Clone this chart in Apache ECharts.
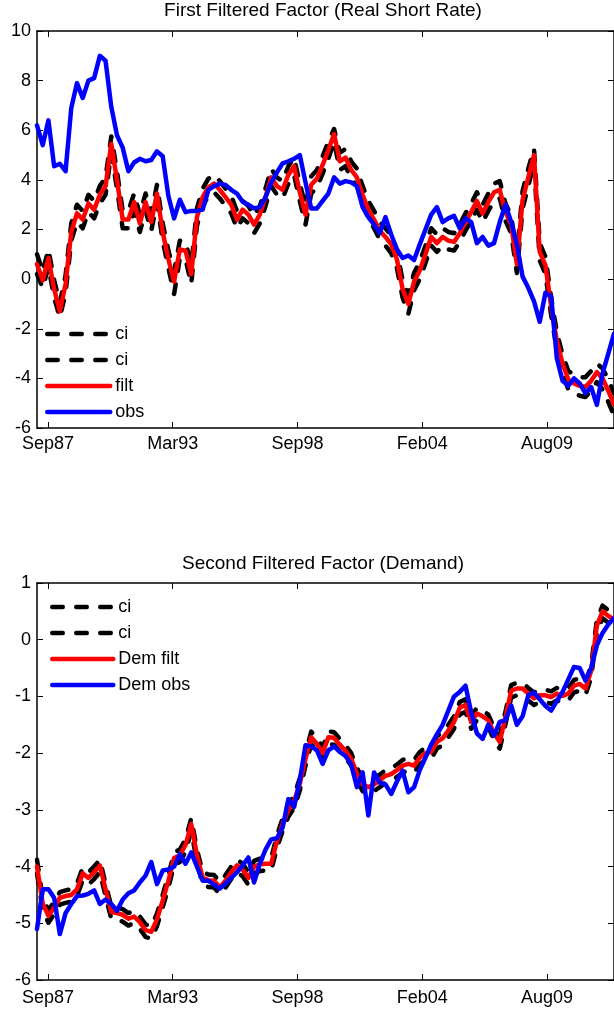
<!DOCTYPE html>
<html><head><meta charset="utf-8">
<script src="https://cdn.jsdelivr.net/npm/echarts@6/dist/echarts.min.js"></script>
<style>html,body{margin:0;padding:0;background:#fff}#c{width:614px;height:1014px}</style>
</head><body><div id="c"></div>
<script>
// ---- data (quarterly, first quarter 1987Q2) ----
const startYear = 1987.25;
const quarterStep = 0.25;
const tickPos = [1987.73, 1993.19, 1998.65, 2004.11, 2009.57];
const tickLabels = ['Sep87', 'Mar93', 'Sep98', 'Feb04', 'Aug09'];
const title1 = 'First Filtered Factor (Real Short Rate)';
const title2 = 'Second Filtered Factor (Demand)';

// Panel 1: First filtered factor (real short rate)
const ciUpper1 = [1.0,0.3,1.2,-0.05,-0.95,0.15,2.25,3.0,2.75,3.4,3.15,3.75,4.1,5.75,4.35,2.75,2.75,3.45,2.6,3.45,2.65,3.8,2.25,1.15,0.3,1.55,1.5,0.55,2.85,3.65,4.05,4.2,3.95,3.65,3.35,2.75,3.15,2.95,2.55,2.95,3.65,4.45,4.1,3.95,4.55,4.9,3.85,2.95,4.15,4.4,4.95,5.55,6.05,5.1,5.25,4.75,4.45,3.75,3.15,2.75,2.3,2.05,1.75,1.15,-0.05,-0.65,0.25,0.7,1.35,2.05,1.8,2.05,1.9,1.85,2.2,2.65,3.05,3.5,3.0,3.45,3.85,3.95,3.05,2.55,0.95,3.55,4.45,5.25,1.45,0.9,-0.75,-2.15,-3.05,-3.7,-3.85,-3.95,-3.95,-3.7,-3.4,-3.6,-4.05,-4.6];
const ciLower1 = [0.2,-0.35,0.5,-0.75,-1.55,-0.55,1.55,2.3,2.05,2.7,2.45,3.05,3.4,5.1,3.65,2.05,2.05,2.75,1.9,2.75,1.95,3.1,1.55,0.45,-0.6,0.85,0.8,-0.2,2.15,2.95,3.35,3.5,3.25,2.95,2.65,2.05,2.45,2.25,1.85,2.25,2.95,3.75,3.4,3.25,3.85,4.2,3.15,2.2,3.45,3.7,4.25,4.85,5.55,4.4,4.55,4.05,3.75,3.05,2.45,2.05,1.6,1.35,1.05,0.45,-0.75,-1.4,-0.45,0.0,0.65,1.35,1.1,1.35,1.2,1.15,1.5,1.95,2.35,2.8,2.3,2.75,3.15,3.25,2.35,1.85,0.25,2.85,3.75,4.7,0.75,0.2,-1.45,-2.85,-3.75,-4.45,-4.6,-4.7,-4.75,-4.5,-4.15,-4.45,-4.95,-5.5];
const filt1 = [0.6,-0.05,0.85,-0.4,-1.3,-0.2,1.9,2.65,2.4,3.05,2.8,3.4,3.75,5.45,4.0,2.4,2.4,3.1,2.25,3.1,2.3,3.45,1.9,0.8,-0.1,1.2,1.15,0.2,2.5,3.3,3.7,3.85,3.6,3.3,3.0,2.4,2.8,2.6,2.2,2.6,3.3,4.1,3.75,3.6,4.2,4.55,3.5,2.6,3.8,4.05,4.6,5.2,5.85,4.75,4.9,4.4,4.1,3.4,2.8,2.4,1.95,1.7,1.4,0.8,-0.4,-1.0,-0.1,0.35,1.0,1.7,1.45,1.7,1.55,1.5,1.85,2.3,2.7,3.15,2.65,3.1,3.5,3.6,2.7,2.2,0.6,3.2,4.1,5.0,1.1,0.55,-1.1,-2.5,-3.4,-4.05,-4.2,-4.3,-4.34,-4.1,-3.75,-4.0,-4.5,-5.05];
const obs1 = [6.2,5.4,6.4,4.55,4.65,4.35,6.9,7.9,7.3,8.0,8.1,9.0,8.8,6.95,5.8,5.3,4.35,4.7,4.85,4.75,4.8,5.15,4.95,3.35,2.45,3.2,2.7,2.75,2.75,2.8,3.6,3.75,3.85,3.8,3.6,3.45,3.12,3.0,2.85,2.9,3.3,3.9,4.3,4.67,4.75,4.85,5.0,3.9,2.85,2.85,3.15,3.45,4.1,3.85,3.95,3.9,3.75,2.9,2.5,2.2,1.85,2.5,1.8,1.2,0.85,0.95,0.77,1.4,2.0,2.6,2.9,2.3,2.45,2.55,2.05,2.45,2.3,1.45,1.7,1.35,1.45,2.3,3.0,2.3,1.4,0.1,-0.35,-0.9,-1.72,-0.55,-0.7,-3.2,-4.1,-4.3,-4.0,-4.2,-4.6,-4.35,-5.07,-3.8,-3.0,-2.2];

// Panel 2: Second filtered factor (demand)
const ciUpper2 = [-3.88,-4.55,-4.77,-4.62,-4.45,-4.42,-4.4,-4.3,-4.02,-4.1,-4.0,-3.88,-4.3,-4.7,-4.72,-4.75,-4.82,-4.78,-4.88,-5.02,-5.05,-4.83,-4.5,-4.15,-3.75,-3.7,-3.52,-3.15,-3.7,-4.1,-4.14,-4.15,-4.27,-4.15,-4.0,-3.88,-3.95,-4.1,-3.9,-3.86,-3.85,-3.85,-3.45,-3.15,-2.9,-2.75,-2.44,-2.0,-1.62,-1.74,-1.9,-1.62,-1.63,-1.75,-1.86,-2.0,-2.26,-2.45,-2.5,-2.45,-2.38,-2.3,-2.27,-2.2,-2.12,-2.09,-2.12,-1.98,-1.9,-1.88,-1.7,-1.64,-1.5,-1.35,-1.1,-1.05,-1.35,-1.2,-1.25,-1.32,-1.55,-1.7,-1.27,-0.8,-0.76,-0.76,-0.85,-0.93,-0.88,-0.88,-0.91,-0.85,-0.89,-0.85,-0.71,-0.68,-0.76,-0.45,0.35,0.6,0.52,0.45];
const ciLower2 = [-4.12,-4.77,-4.99,-4.84,-4.67,-4.64,-4.62,-4.52,-4.24,-4.32,-4.22,-4.1,-4.52,-4.92,-4.94,-4.97,-5.04,-5.0,-5.1,-5.24,-5.27,-5.05,-4.72,-4.37,-3.97,-3.92,-3.74,-3.37,-3.92,-4.32,-4.36,-4.37,-4.49,-4.37,-4.22,-4.1,-4.17,-4.32,-4.12,-4.08,-4.07,-4.07,-3.67,-3.37,-3.12,-2.97,-2.66,-2.22,-1.84,-1.96,-2.12,-1.84,-1.85,-1.97,-2.08,-2.22,-2.48,-2.67,-2.72,-2.67,-2.6,-2.52,-2.49,-2.42,-2.34,-2.31,-2.34,-2.2,-2.12,-2.1,-1.92,-1.86,-1.72,-1.57,-1.32,-1.27,-1.57,-1.42,-1.47,-1.54,-1.77,-1.92,-1.49,-1.02,-0.98,-0.98,-1.07,-1.15,-1.1,-1.1,-1.13,-1.07,-1.11,-1.07,-0.93,-0.9,-0.98,-0.67,0.13,0.38,0.3,0.23];
const demFilt = [-4.0,-4.65,-4.87,-4.72,-4.55,-4.52,-4.5,-4.4,-4.12,-4.2,-4.1,-3.98,-4.4,-4.8,-4.82,-4.85,-4.92,-4.88,-4.98,-5.12,-5.15,-4.93,-4.6,-4.25,-3.85,-3.8,-3.62,-3.25,-3.8,-4.2,-4.24,-4.25,-4.37,-4.25,-4.1,-3.98,-4.05,-4.2,-4.0,-3.96,-3.95,-3.95,-3.55,-3.25,-3.0,-2.85,-2.54,-2.1,-1.72,-1.84,-2.0,-1.72,-1.73,-1.85,-1.96,-2.1,-2.36,-2.55,-2.6,-2.55,-2.48,-2.4,-2.37,-2.3,-2.22,-2.19,-2.22,-2.08,-2.0,-1.98,-1.8,-1.74,-1.6,-1.45,-1.2,-1.15,-1.45,-1.3,-1.35,-1.42,-1.65,-1.8,-1.37,-0.9,-0.86,-0.86,-0.95,-1.03,-0.98,-0.98,-1.01,-0.95,-0.99,-0.95,-0.81,-0.78,-0.86,-0.55,0.25,0.5,0.42,0.35];
const demObs = [-5.1,-4.4,-4.4,-4.55,-5.19,-4.82,-4.66,-4.52,-4.51,-4.48,-4.42,-4.66,-4.58,-4.66,-4.78,-4.58,-4.47,-4.42,-4.28,-4.16,-3.92,-4.31,-4.07,-4.05,-4.0,-3.78,-3.95,-3.75,-4.0,-4.25,-4.25,-4.32,-4.39,-4.3,-4.2,-4.1,-3.98,-3.84,-4.28,-3.95,-3.7,-3.52,-3.5,-3.31,-2.81,-2.95,-2.48,-1.86,-1.88,-1.95,-2.19,-1.95,-1.88,-1.98,-2.05,-2.2,-2.6,-2.34,-3.1,-2.34,-2.52,-2.55,-2.72,-2.5,-2.31,-2.69,-2.6,-2.3,-2.08,-1.85,-1.67,-1.5,-1.25,-1.0,-0.92,-0.81,-1.28,-1.65,-1.75,-1.5,-1.69,-1.45,-1.42,-1.16,-1.5,-1.35,-0.98,-0.93,-1.05,-1.17,-1.25,-1.08,-0.92,-0.7,-0.48,-0.5,-0.72,-0.5,-0.1,0.12,0.27,0.38];

// ---- chart ----
const FONT = '"Liberation Sans", Arial, Helvetica, sans-serif';
const dates = filt1.map((_, i) => startYear + i * quarterStep);
const xMin = dates[0], xMax = dates[dates.length - 1];
const pairs = arr => dates.map((d, i) => [d, arr[i]]);
const fmtX = v => { const k = tickPos.findIndex(p => Math.abs(p - v) < 1e-6); return k >= 0 ? tickLabels[k] : ''; };
const AX = '#000';

function xAxes(gi, margin) {
  const base = {
    type: 'value', gridIndex: gi, min: xMin, max: xMax,
    axisLine: { show: true, onZero: false, lineStyle: { color: AX, width: 1.5 } },
    splitLine: { show: false },
    axisTick: { show: true, inside: true, length: 6, customValues: tickPos, lineStyle: { color: AX, width: 1 } }
  };
  return [
    Object.assign({}, base, { position: 'bottom',
      axisLabel: { show: true, customValues: tickPos, formatter: fmtX, color: '#000', fontSize: 18, fontFamily: FONT, margin: margin } }),
    Object.assign({}, base, { position: 'top', axisLabel: { show: false } })
  ];
}
function yAxes(gi, min, max, interval) {
  const base = {
    type: 'value', gridIndex: gi, min: min, max: max, interval: interval,
    axisLine: { show: true, onZero: false, lineStyle: { color: AX, width: 1.5 } },
    splitLine: { show: false },
    axisTick: { show: true, inside: true, length: 6, lineStyle: { color: AX, width: 1 } }
  };
  return [
    Object.assign({}, base, { position: 'left',
      axisLabel: { show: true, color: '#000', fontSize: 18, fontFamily: FONT, margin: 6 } }),
    Object.assign({}, base, { position: 'right', axisLabel: { show: false } })
  ];
}
function line(name, arr, color, dashed, xi, yi) {
  return {
    type: 'line', name: name, xAxisIndex: xi, yAxisIndex: yi, data: pairs(arr),
    symbol: 'none', showSymbol: false, silent: true, animation: false,
    emphasis: { disabled: true },
    lineStyle: { color: color, width: 4.5, type: dashed ? [10.5, 13.5] : 'solid', cap: 'round', join: 'round' },
    itemStyle: { color: color }
  };
}
const legendName = n => n.indexOf('ci_') === 0 ? 'ci' : n;
function legend(names, left, top, itemWidth) {
  return {
    data: names, orient: 'vertical', left: left, top: top, padding: 0,
    itemWidth: itemWidth, itemHeight: 14, itemGap: 6, selectedMode: false,
    formatter: legendName,
    textStyle: { fontSize: 18, fontFamily: FONT, color: '#000', lineHeight: 20 },
    lineStyle: { width: 4.5 },
    itemStyle: { opacity: 0, borderWidth: 0 }
  };
}

const chart = echarts.init(document.getElementById('c'), null, { renderer: 'canvas' });
chart.setOption({
  animation: false,
  backgroundColor: '#fff',
  title: [
    { text: title1, left: 323, top: 1, padding: 0, textAlign: 'center',
      textStyle: { fontSize: 19, fontWeight: 'normal', fontFamily: FONT, color: '#000' } },
    { text: title2, left: 323, top: 554, padding: 0, textAlign: 'center',
      textStyle: { fontSize: 19, fontWeight: 'normal', fontFamily: FONT, color: '#000' } }
  ],
  grid: [
    { left: 37, top: 31, width: 578, height: 397 },
    { left: 37, top: 583, width: 578, height: 397 }
  ],
  xAxis: xAxes(0, 7).concat(xAxes(1, 9)),
  yAxis: yAxes(0, -6, 10, 2).concat(yAxes(1, -6, 1, 1)),
  legend: [
    legend(['ci_u1', 'ci_l1', 'filt', 'obs'], 45, 324, 63),
    legend(['ci_u2', 'ci_l2', 'Dem filt', 'Dem obs'], 50, 597, 61)
  ],
  series: [
    line('ci_u1', ciUpper1, '#000', true, 0, 0),
    line('ci_l1', ciLower1, '#000', true, 0, 0),
    line('filt', filt1, '#ff0000', false, 0, 0),
    line('obs', obs1, '#0000ff', false, 0, 0),
    line('ci_u2', ciUpper2, '#000', true, 2, 2),
    line('ci_l2', ciLower2, '#000', true, 2, 2),
    line('Dem filt', demFilt, '#ff0000', false, 2, 2),
    line('Dem obs', demObs, '#0000ff', false, 2, 2)
  ]
});
</script>
</body></html>
